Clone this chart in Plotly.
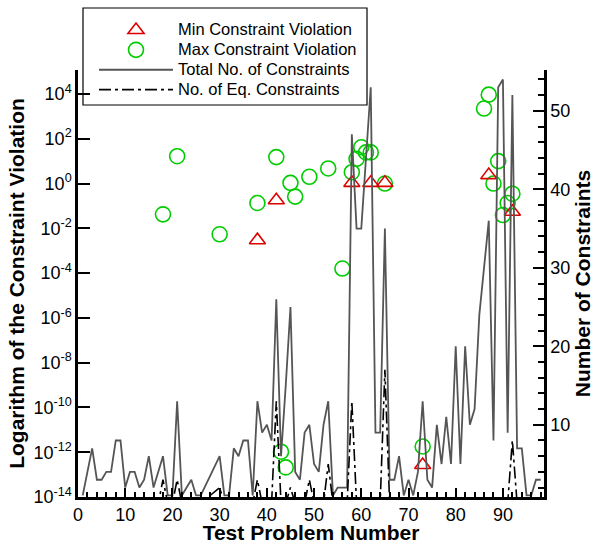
import plotly.graph_objects as go

# ---------------- data ----------------
prob_x = [1, 2, 3, 4, 5, 6, 7, 8, 9, 10, 11, 12, 13, 14, 15, 16, 17, 18, 19, 20,
          21, 22, 23, 24, 25, 26, 30, 31, 32, 33, 34, 35, 36, 37, 38, 39, 40,
          41, 42, 43, 44, 45, 46, 47, 48, 49, 50, 51, 52, 53, 54, 55, 56, 57, 58, 59, 60,
          61, 62, 63, 64, 65, 66, 67, 68, 69, 70, 71, 72, 73, 74, 75, 76, 77, 78, 79, 80,
          81, 82, 83, 84, 85, 86, 87, 88, 89, 90, 91, 92, 93, 94, 95, 96, 97, 98]
total_cons = [1, 4, 7, 3, 3, 4, 4, 8, 8, 2, 4, 4, 2, 3, 6, 2, 4, 6, 1, 1,
              13, 1, 2, 3, 1, 1, 6, 1, 1, 7, 6, 8, 8, 1, 13, 9, 10,
              8, 26, 6, 15, 25, 4, 3, 9, 10, 5, 4, 10, 13, 1, 2, 2, 2, 47, 35, 35,
              44, 53, 9, 9, 35, 3, 3, 6, 1, 3, 1, 4, 13, 3, 2, 10, 5, 11, 5, 20,
              5, 20, 10, 12, 24, 30, 36, 8, 53, 54, 9, 52, 7, 7, 1, 1, 3, 3]
eq_cons = [0, 0, 0, 0, 0, 0, 0, 0, 0, 0, 0, 0, 0, 0, 0, 0, 0, 3, 0, 0,
           3, 0, 0, 0, 0, 0, 2, 0, 0, 0, 0, 0, 0, 0, 3, 0, 0,
           0, 13, 0, 0, 2, 0, 0, 0, 3, 0, 0, 0, 5, 0, 0, 0, 0, 13, 0, 0,
           0, 0, 0, 0, 17, 0, 0, 0, 0, 0, 0, 0, 0, 0, 0, 0, 0, 0, 0, 0,
           0, 0, 0, 0, 0, 0, 0, 0, 0, 0, 0, 8, 0, 0, 0, 0, 0, 0]

min_x = [38, 42, 58, 62, 65, 73, 87, 92]
min_viol = [2.95e-3, 0.18, 1.07, 1.07, 1.07, 2.7e-13, 2.37, 0.055]

max_x = [18, 21, 30, 38, 42, 43, 44, 45, 46, 49, 53, 56, 58, 59, 60, 61, 62, 65,
         73, 86, 87, 88, 89, 90, 91, 92]
max_viol = [0.042, 16.6, 5.4e-3, 0.135, 15.1, 1.05e-12, 2.1e-13, 1.07, 0.26, 2.0,
            4.7, 1.6e-4, 3.2, 12.6, 41.7, 24.5, 24.5, 1.0, 1.8e-12, 2240, 9330,
            1.0, 10.0, 0.039, 0.135, 0.35]

x_ticks = [0, 10, 20, 30, 40, 50, 60, 70, 80, 90]
y_exps = [4, 2, 0, -2, -4, -6, -8, -10, -12, -14]
y_tickvals = [10.0 ** e for e in y_exps]
y_ticktext = ["10<sup>%d</sup>" % e for e in y_exps]

FONT = "Liberation Sans, Arial, sans-serif"

def lg(name):
    return "<span style='font-size:16.5px'>%s</span>" % name

fig = go.Figure()

fig.add_trace(go.Scatter(
    x=prob_x, y=total_cons, yaxis="y2", mode="lines",
    line=dict(color="#555555", width=1.8),
    name=lg("Total No. of Constraints"), legendrank=3))
fig.add_trace(go.Scatter(
    x=prob_x, y=eq_cons, yaxis="y2", mode="lines",
    line=dict(color="black", width=1.6, dash="12px,4px,3px,4px"),
    name=lg("No. of Eq. Constraints"), legendrank=4))
fig.add_trace(go.Scatter(
    x=max_x, y=max_viol, mode="markers",
    marker=dict(symbol="circle-open", size=15, color="#00cc00",
                line=dict(width=1.6, color="#00cc00")),
    name=lg("Max Constraint Violation"), legendrank=2, cliponaxis=False))
fig.add_trace(go.Scatter(
    x=min_x, y=min_viol, mode="markers",
    marker=dict(symbol="triangle-up-open", size=14, color="#dd0000",
                line=dict(width=1.6, color="#dd0000")),
    name=lg("Min Constraint Violation"), legendrank=1, cliponaxis=False))

L, R, T, B = 78, 54, 70, 47
W, H = 598, 544
pw, ph = W - L - R, H - T - B

def px_x(p):
    return (p - L) / pw

def px_y(p):
    return (H - B - p) / ph

fig.add_shape(type="rect", xref="paper", yref="paper",
              x0=px_x(83), x1=px_x(367), y0=px_y(105), y1=px_y(8),
              line=dict(color="black", width=1.2), fillcolor="white", layer="below")

fig.update_layout(
    width=W, height=H,
    margin=dict(l=L, r=R, t=T, b=B, pad=0, autoexpand=False),
    paper_bgcolor="white", plot_bgcolor="white",
    font=dict(family=FONT, color="black", size=18),
    showlegend=True,
    legend=dict(x=px_x(94), y=px_y(15), xanchor="left", yanchor="top",
                bgcolor="rgba(0,0,0,0)", borderwidth=0,
                font=dict(family=FONT, size=13, color="black"),
                itemwidth=74, tracegroupgap=0),
    xaxis=dict(range=[0, 98.7], tickvals=x_ticks, ticks="inside", ticklen=9,
               tickwidth=2, tickcolor="black", automargin=False,
               minor=dict(dtick=2, tick0=0, ticks="inside", ticklen=5, tickwidth=1.5,
                          tickcolor="black"),
               showline=True, linewidth=2.5, linecolor="black", mirror=False,
               showgrid=False, zeroline=False,
               tickfont=dict(size=18, family=FONT),
               title=dict(text="<b>Test Problem Number</b>",
                          font=dict(size=21, family=FONT), standoff=5)),
    yaxis=dict(type="log", range=[-14, 5.07], tickvals=y_tickvals, ticktext=y_ticktext,
               ticks="inside", ticklen=12, tickwidth=2, tickcolor="black",
               showline=True, linewidth=2.5, linecolor="black", automargin=False,
               showgrid=False, zeroline=False,
               tickfont=dict(size=18, family=FONT),
               title=dict(text="<b>Logarithm of the Constraint Violation</b>",
                          font=dict(size=21, family=FONT), standoff=4)),
    yaxis2=dict(overlaying="y", side="right", range=[0.8, 55.2],
                tickvals=[10, 20, 30, 40, 50], automargin=False,
                ticks="inside", ticklen=11, tickwidth=2, tickcolor="black",
                minor=dict(dtick=2, tick0=0, ticks="inside", ticklen=6, tickwidth=1.5,
                           tickcolor="black"),
                showline=True, linewidth=2.5, linecolor="black",
                showgrid=False, zeroline=False,
                tickfont=dict(size=18, family=FONT),
                title=dict(text="<b>Number of Constraints</b>",
                           font=dict(size=21, family=FONT), standoff=6)),
)

fig.write_html("out.html")
